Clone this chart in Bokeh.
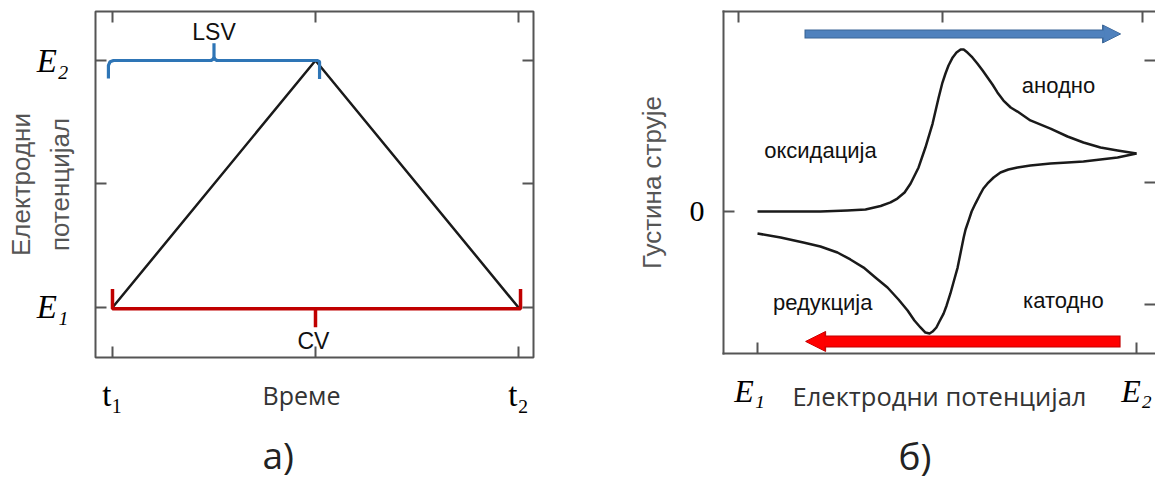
from bokeh.plotting import figure
from bokeh.layouts import row
from bokeh.models import LinearAxis, Range1d, FixedTicker, Arrow, NormalHead, Title
from bokeh.core.properties import value
from bokeh.embed import file_html
from bokeh.resources import INLINE

NBSP = "\u00a0"

# ---------- panel а): applied potential program ----------
sweep_time = [0, 1, 2]            # t1, switching time, t2
sweep_potential = [0, 2, 0]       # E1 -> E2 -> E1
time_ticks = [0, 1, 2]
time_labels = {0: "t₁", 1: "", 2: "t₂"}
potential_ticks = [0, 1, 2]
potential_labels = {0: "E₁", 1: "", 2: "E₂"}
lsv_span = (0.0, 1.0)             # linear sweep: forward half only
cv_span = (0.0, 2.0)              # cyclic: forward + reverse

# ---------- panel б): cyclic voltammogram (normalised) ----------
fwd_potential = [0.000, 0.087, 0.166, 0.237, 0.285, 0.325, 0.351, 0.369, 0.388, 0.404,
                 0.425, 0.443, 0.462, 0.478, 0.488, 0.496, 0.504, 0.515, 0.525, 0.536,
                 0.544, 0.554, 0.567, 0.580, 0.594, 0.607, 0.620, 0.633, 0.649, 0.668,
                 0.686, 0.720, 0.773, 0.818, 0.860, 0.905, 0.950, 1.000]
fwd_current = [0.000, 0.000, 0.000, 0.006, 0.012, 0.034, 0.056, 0.080, 0.117, 0.173,
               0.272, 0.395, 0.543, 0.704, 0.796, 0.852, 0.901, 0.951, 0.981, 1.000,
               1.000, 0.981, 0.951, 0.914, 0.870, 0.827, 0.784, 0.735, 0.685, 0.642,
               0.617, 0.562, 0.512, 0.463, 0.426, 0.395, 0.377, 0.358]
rev_potential = [1.000, 0.950, 0.905, 0.860, 0.818, 0.773, 0.720, 0.686, 0.662, 0.641,
                 0.623, 0.607, 0.596, 0.586, 0.575, 0.565, 0.557, 0.549, 0.544, 0.536,
                 0.528, 0.517, 0.509, 0.499, 0.491, 0.480, 0.472, 0.462, 0.454, 0.443,
                 0.430, 0.414, 0.396, 0.372, 0.343, 0.311, 0.280, 0.245, 0.211, 0.166,
                 0.121, 0.061, 0.000]
rev_current = [0.358, 0.333, 0.321, 0.309, 0.302, 0.296, 0.284, 0.272, 0.259, 0.241,
               0.210, 0.173, 0.142, 0.099, 0.049, 0.000, -0.056, -0.111, -0.160, -0.253,
               -0.346, -0.438, -0.506, -0.580, -0.630, -0.679, -0.716, -0.741, -0.753, -0.747,
               -0.716, -0.673, -0.611, -0.543, -0.469, -0.407, -0.346, -0.296, -0.253, -0.216,
               -0.191, -0.160, -0.136]
cv_top_ticks = [-0.05, 0.488, 1.016]
cv_bottom_ticks = [0, 1]
cv_bottom_labels = {0: "E₁" + NBSP * 2, 1: "E₂"}
cv_left_ticks = [0]
cv_left_labels = {0: "0"}
cv_right_ticks = [0.932, 0.179, -0.574]
anodic_scan = (0.124, 0.958, 1.096)     # start, end, level
cathodic_scan = (0.958, 0.127, -0.802)

FRAME = "#555555"
CURVE = "#1a1a1a"
SANS = "Liberation Sans"
UI = "Open Sans"
SERIF = "Liberation Serif"


def style_axis(ax, ticks, line=True, labels=None, font=SERIF, size=30,
               style="normal", standoff=0):
    ax.ticker = FixedTicker(ticks=ticks)
    ax.major_tick_in = 11
    ax.major_tick_out = 0
    ax.minor_tick_in = 0
    ax.minor_tick_out = 0
    ax.major_tick_line_color = FRAME
    ax.major_tick_line_width = 2
    ax.axis_line_color = FRAME if line else None
    ax.axis_line_width = 2
    ax.axis_line_cap = "square"
    if labels is None:
        ax.major_label_text_font_size = "0px"
        ax.major_label_text_color = None
        ax.major_label_standoff = 0
        ax.axis_label_standoff = 0
    else:
        ax.major_label_overrides = labels
        ax.major_label_text_font = font
        ax.major_label_text_font_size = f"{size}px"
        ax.major_label_text_font_style = style
        ax.major_label_text_color = "#000000"
        ax.major_label_standoff = standoff


def axis_title(ax, text, font, size, color, standoff, line_height=1.2):
    ax.axis_label = text
    ax.axis_label_text_font = font
    ax.axis_label_text_font_size = f"{size}px"
    ax.axis_label_text_font_style = "normal"
    ax.axis_label_text_color = color
    ax.axis_label_standoff = standoff
    ax.axis_label_text_line_height = line_height


def new_fig(xr, yr, fw, fh, left, right, top, bottom):
    p = figure(x_range=Range1d(*xr), y_range=Range1d(*yr),
               frame_width=fw, frame_height=fh,
               min_border_left=left, min_border_right=right,
               min_border_top=top, min_border_bottom=bottom,
               output_backend="svg", toolbar_location=None)
    p.xgrid.visible = False
    p.ygrid.visible = False
    p.background_fill_color = "white"
    p.border_fill_color = "white"
    return p


def caption(p, text, offset, standoff):
    p.add_layout(Title(text=text, align="left", offset=offset, standoff=standoff,
                       text_font=UI, text_font_size="37px", text_font_style="normal",
                       text_color="#222222"), "below")


# ================= panel а) =================
pa = new_fig((-0.0837, 2.0739), (-0.4049, 2.3968), 438, 346, 95, 47, 11, 125)
pa.outline_line_color = FRAME
pa.outline_line_width = 2

style_axis(pa.yaxis[0], potential_ticks, line=False, labels=potential_labels,
           size=33, style="italic", standoff=27)
axis_title(pa.yaxis[0], "Електродни\nпотенцијал", SANS, 26, "#555555", -41, 1.3)
style_axis(pa.xaxis[0], time_ticks, line=False, labels=time_labels, size=33, standoff=19)
axis_title(pa.xaxis[0], "Време" + NBSP * 4, UI, 25, "#333333", -38)
top_a = LinearAxis()
style_axis(top_a, time_ticks, line=False)
pa.add_layout(top_a, "above")
right_a = LinearAxis()
style_axis(right_a, potential_ticks, line=False)
pa.add_layout(right_a, "right")

pa.line(sweep_time, sweep_potential, line_color=CURVE, line_width=2.5)

# LSV brace over the forward sweep
e2 = max(sweep_potential)
l0, l1 = lsv_span
lm = (l0 + l1) / 2
brace_x = [l0 - 0.02, l0 - 0.02, l0 - 0.012, l0 + 0.005, lm - 0.015, lm - 0.004, lm, lm,
           lm, lm + 0.004, lm + 0.015, l1 + 0.01, l1 + 0.02, l1 + 0.02]
brace_y = [e2 - 0.145, e2 - 0.04, e2 - 0.01, e2, e2, e2 + 0.01, e2 + 0.03, e2 + 0.14,
           e2 + 0.03, e2 + 0.01, e2, e2, e2 - 0.01, e2 - 0.15]
pa.line(brace_x, brace_y, line_color="#2e75b6", line_width=3.2)
pa.text([lm], [e2 + 0.227], text=["LSV"], text_font=value(SANS), text_font_size="23px",
        text_align="center", text_baseline="middle", text_color="#111111")

# CV bracket under the whole cycle
e1 = min(sweep_potential)
c0, c1 = cv_span
cm = (c0 + c1) / 2
pa.line([c0, c0, c1 + 0.01, c1 + 0.01], [e1 + 0.15, e1 - 0.01, e1 - 0.01, e1 + 0.15],
        line_color="#c00000", line_width=3.5)
pa.line([cm, cm], [e1 - 0.01, e1 - 0.16], line_color="#c00000", line_width=3.5)
pa.text([cm - 0.01], [e1 - 0.27], text=["CV"], text_font=value(SANS), text_font_size="23px",
        text_align="center", text_baseline="middle", text_color="#111111")

caption(pa, "а)", 167, 25)

# ================= panel б) =================
pb = new_fig((-0.0897, 1.0501), (-0.8765, 1.2346), 432, 342, 143, 0, 11, 129)
pb.outline_line_color = None

style_axis(pb.yaxis[0], cv_left_ticks, labels=cv_left_labels, size=30, standoff=19)
axis_title(pb.yaxis[0], "Густина струје", SANS, 26, "#555555", 20)
style_axis(pb.xaxis[0], cv_bottom_ticks, labels=cv_bottom_labels, size=32,
           style="italic", standoff=19)
axis_title(pb.xaxis[0], "Електродни потенцијал", UI, 25.5, "#333333", -33)
top_b = LinearAxis()
style_axis(top_b, cv_top_ticks)
pb.add_layout(top_b, "above")
right_b = LinearAxis()
style_axis(right_b, cv_right_ticks, line=False)
pb.add_layout(right_b, "right")

pb.line(fwd_potential, fwd_current, line_color=CURVE, line_width=2.5, line_join="round")
pb.line(rev_potential, rev_current, line_color=CURVE, line_width=2.5, line_join="round")

# scan direction arrows
for (s, e, lvl), dark, light, w, hs in [(anodic_scan, "#3a6596", "#4f81bd", 9, 18),
                                         (cathodic_scan, "#c00000", "#ff0000", 12, 20)]:
    pb.add_layout(Arrow(start=None, end=NormalHead(size=hs, fill_color=dark, line_color=dark,
                                                   line_width=1),
                        x_start=s, y_start=lvl, x_end=e, y_end=lvl,
                        line_color=dark, line_width=w))
    pb.add_layout(Arrow(start=None, end=NormalHead(size=hs - 3, fill_color=light,
                                                   line_color=light, line_width=1),
                        x_start=s + (0.003 if e > s else -0.003), y_start=lvl,
                        x_end=e + (-0.004 if e > s else 0.004), y_end=lvl,
                        line_color=light, line_width=w - 2))

pb.text([0.794, 0.166, 0.172, 0.807], [0.778, 0.377, -0.562, -0.549],
        text=["анодно", "оксидација", "редукција", "катодно"],
        text_font=value(SANS), text_font_size="22px", text_align="center",
        text_baseline="middle", text_color="#111111")

caption(pb, "б)", 175, 25)

layout = row(pa, pb)
open("out.html", "w").write(file_html(layout, INLINE))
